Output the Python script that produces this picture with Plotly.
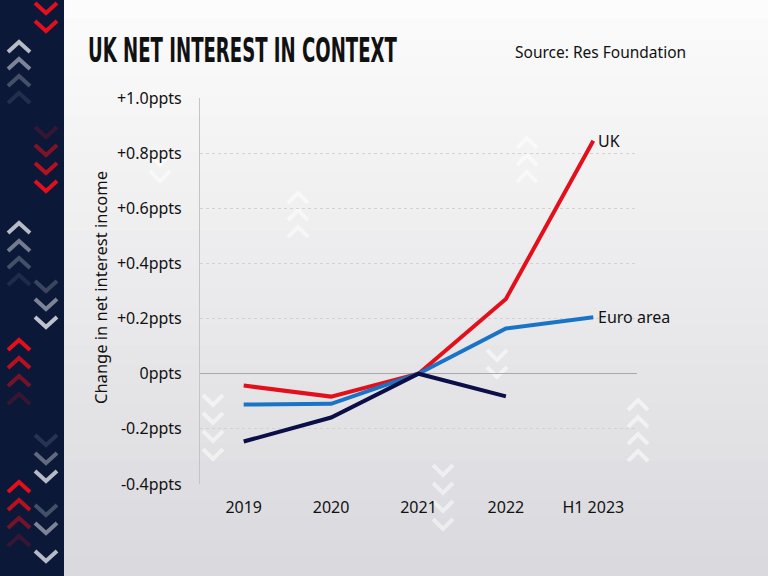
import plotly.graph_objects as go

# ---- data ----
categories = ["2019", "2020", "2021", "2022", "H1 2023"]
uk = [-0.043, -0.083, 0.0, 0.271, 0.845]
euro = [-0.112, -0.109, 0.0, 0.164, 0.205]
us = [-0.246, -0.159, 0.0, -0.082]
tick_vals = [-0.4, -0.2, 0.0, 0.2, 0.4, 0.6, 0.8, 1.0]
tick_text = ["-0.4ppts", "-0.2ppts", "0ppts", "+0.2ppts", "+0.4ppts",
             "+0.6ppts", "+0.8ppts", "+1.0ppts"]

W, H = 768, 576
L, R, T, B = 200, 637, 98, 484  # plot area in pixels

def px(x):
    return (x - L) / (R - L)

def py(y):
    return (B - y) / (B - T)

FONT = "Noto Sans, Open Sans, sans-serif"
shapes = []

# background gradient
n = 30
for i in range(n):
    t = i / (n - 1)
    c0, c1 = (252, 252, 252), (218, 218, 222)
    col = tuple(int(a + (b - a) * t) for a, b in zip(c0, c1))
    y0 = H * i / n
    y1 = H * (i + 1) / n + 1
    shapes.append(dict(type="rect", xref="paper", yref="paper",
                       x0=px(0), x1=px(W), y0=py(y1), y1=py(y0),
                       fillcolor="rgb(%d,%d,%d)" % col, line_width=0, layer="below"))

# left navy strip
shapes.append(dict(type="rect", xref="paper", yref="paper",
                   x0=px(0), x1=px(64), y0=py(H), y1=py(0),
                   fillcolor="#0b1838", line_width=0, layer="below"))

def chevron(cx, cy, up, color, op, w=22, h=10, lw=4):
    d = -1 if up else 1
    pts = [(cx - w / 2, cy - d * h / 2), (cx, cy + d * h / 2), (cx + w / 2, cy - d * h / 2)]
    path = "M %f,%f L %f,%f L %f,%f" % (px(pts[0][0]), py(pts[0][1]),
                                        px(pts[1][0]), py(pts[1][1]),
                                        px(pts[2][0]), py(pts[2][1]))
    shapes.append(dict(type="path", xref="paper", yref="paper", path=path,
                       line=dict(color=color, width=lw), opacity=op, layer="below"))

RED = "#e3101b"
GREY = "#c9cdd6"
# strip chevrons
for y, o in [(8, 1), (26, 1)]:
    chevron(46, y, False, RED, o)
for y, o in [(47, 0.9), (64, 0.6), (81, 0.3), (98, 0.12)]:
    chevron(19, y, True, GREY, o)
for y, o in [(132, 0.2), (150, 0.55), (168, 0.8), (186, 1)]:
    chevron(46, y, False, RED, o)
for y, o in [(228, 0.9), (246, 0.55), (263, 0.3), (280, 0.1)]:
    chevron(19, y, True, GREY, o)
for y, o in [(286, 0.25), (304, 0.6), (322, 0.95)]:
    chevron(46, y, False, GREY, o)
for y, o in [(345, 1), (363, 0.8), (381, 0.5), (399, 0.2)]:
    chevron(19, y, True, RED, o)
for y, o in [(440, 0.15), (458, 0.45), (476, 0.9)]:
    chevron(46, y, False, GREY, o)
for y, o in [(487, 1), (505, 0.8), (523, 0.5), (541, 0.2)]:
    chevron(19, y, True, RED, o)
for y, o in [(510, 0.3), (528, 0.6), (556, 0.9)]:
    chevron(46, y, False, GREY, o)

# faint watermark chevrons in chart area
WM = "#ffffff"
for y in [160, 176]:
    chevron(160, y, False, WM, 0.55, w=20, h=10, lw=4)
for y in [198, 215, 232]:
    chevron(298, y, True, WM, 0.55, w=20, h=10, lw=4)
for y in [143, 160, 177]:
    chevron(527, y, True, WM, 0.55, w=20, h=10, lw=4)
for y in [355, 372]:
    chevron(497, y, False, WM, 0.55, w=20, h=10, lw=4)
for y in [405, 422, 439, 456]:
    chevron(638, y, True, WM, 0.55, w=20, h=10, lw=4)
for y in [400, 418, 436, 454]:
    chevron(213, y, False, WM, 0.55, w=20, h=10, lw=4)
for y in [470, 488, 506, 524]:
    chevron(443, y, False, WM, 0.5, w=20, h=10, lw=4)

fig = go.Figure()
series = [("UK", uk, "#e3101b"), ("Euro area", euro, "#1a74c6"), ("US", us, "#0c0f47")]
for name, vals, col in series:
    fig.add_trace(go.Scatter(x=categories[:len(vals)], y=vals, mode="lines", name=name,
                             line=dict(color=col, width=4), hoverinfo="skip"))

annotations = []
for name, vals, col in series:
    annotations.append(dict(x=categories[len(vals) - 1], y=vals[-1], xref="x", yref="y",
                            text=name, showarrow=False, xanchor="left", yanchor="middle",
                            xshift=3, font=dict(family=FONT, size=16, color="#111111")))

annotations.append(dict(x=px(86), y=py(50), xref="paper", yref="paper",
                        text="<b>UK NET INTEREST IN CONTEXT</b>", showarrow=False,
                        xanchor="left", yanchor="middle",
                        font=dict(family="DejaVu Sans Condensed, DejaVu Sans, sans-serif",
                                  size=34, color="#111111")))
annotations.append(dict(x=px(513), y=py(52), xref="paper", yref="paper",
                        text="Source: Res Foundation", showarrow=False,
                        xanchor="left", yanchor="middle",
                        font=dict(family=FONT, size=15.5, color="#111111")))
annotations.append(dict(x=px(100), y=py(288), xref="paper", yref="paper",
                        text="Change in net interest income", showarrow=False,
                        textangle=-90, xanchor="center", yanchor="middle",
                        font=dict(family=FONT, size=16.5, color="#111111")))

fig.update_layout(
    width=W, height=H,
    margin=dict(l=L, r=W - R, t=T, b=H - B, pad=0),
    paper_bgcolor="#f0f0f2", plot_bgcolor="rgba(0,0,0,0)",
    showlegend=False, shapes=shapes, annotations=annotations,
    font=dict(family=FONT, size=16, color="#111111"),
    xaxis=dict(type="category", categoryorder="array", categoryarray=categories,
               range=[-0.5, 4.5], showgrid=False, zeroline=False, showline=False,
               ticks="", ticklabelstandoff=12, tickfont=dict(size=16, color="#111111")),
    yaxis=dict(range=[-0.4, 1.0], tickvals=tick_vals, ticktext=tick_text,
               showgrid=True, gridcolor="#d2d2d5", griddash="dot", gridwidth=1,
               zeroline=True, zerolinecolor="#a8a8ac", zerolinewidth=1,
               showline=True, linecolor="#c4c4c8", linewidth=1,
               ticks="", ticklabelstandoff=14, tickfont=dict(size=16, color="#111111")),
)

post = """
document.body.style.margin = '0';
var gd = document.getElementById('{plot_id}');
gd.querySelectorAll('text.annotation-text').forEach(function (t) {
  if (t.textContent.indexOf('UK NET INTEREST') === 0) {
    var bb = t.getBBox();
    var s = 309 / bb.width;
    t.setAttribute('transform', 'translate(' + bb.x + ',0) scale(' + s + ',1) translate(' + (-bb.x) + ',0)');
  }
});
"""

fig.write_html("out.html", post_script=post, config={"displayModeBar": False})
